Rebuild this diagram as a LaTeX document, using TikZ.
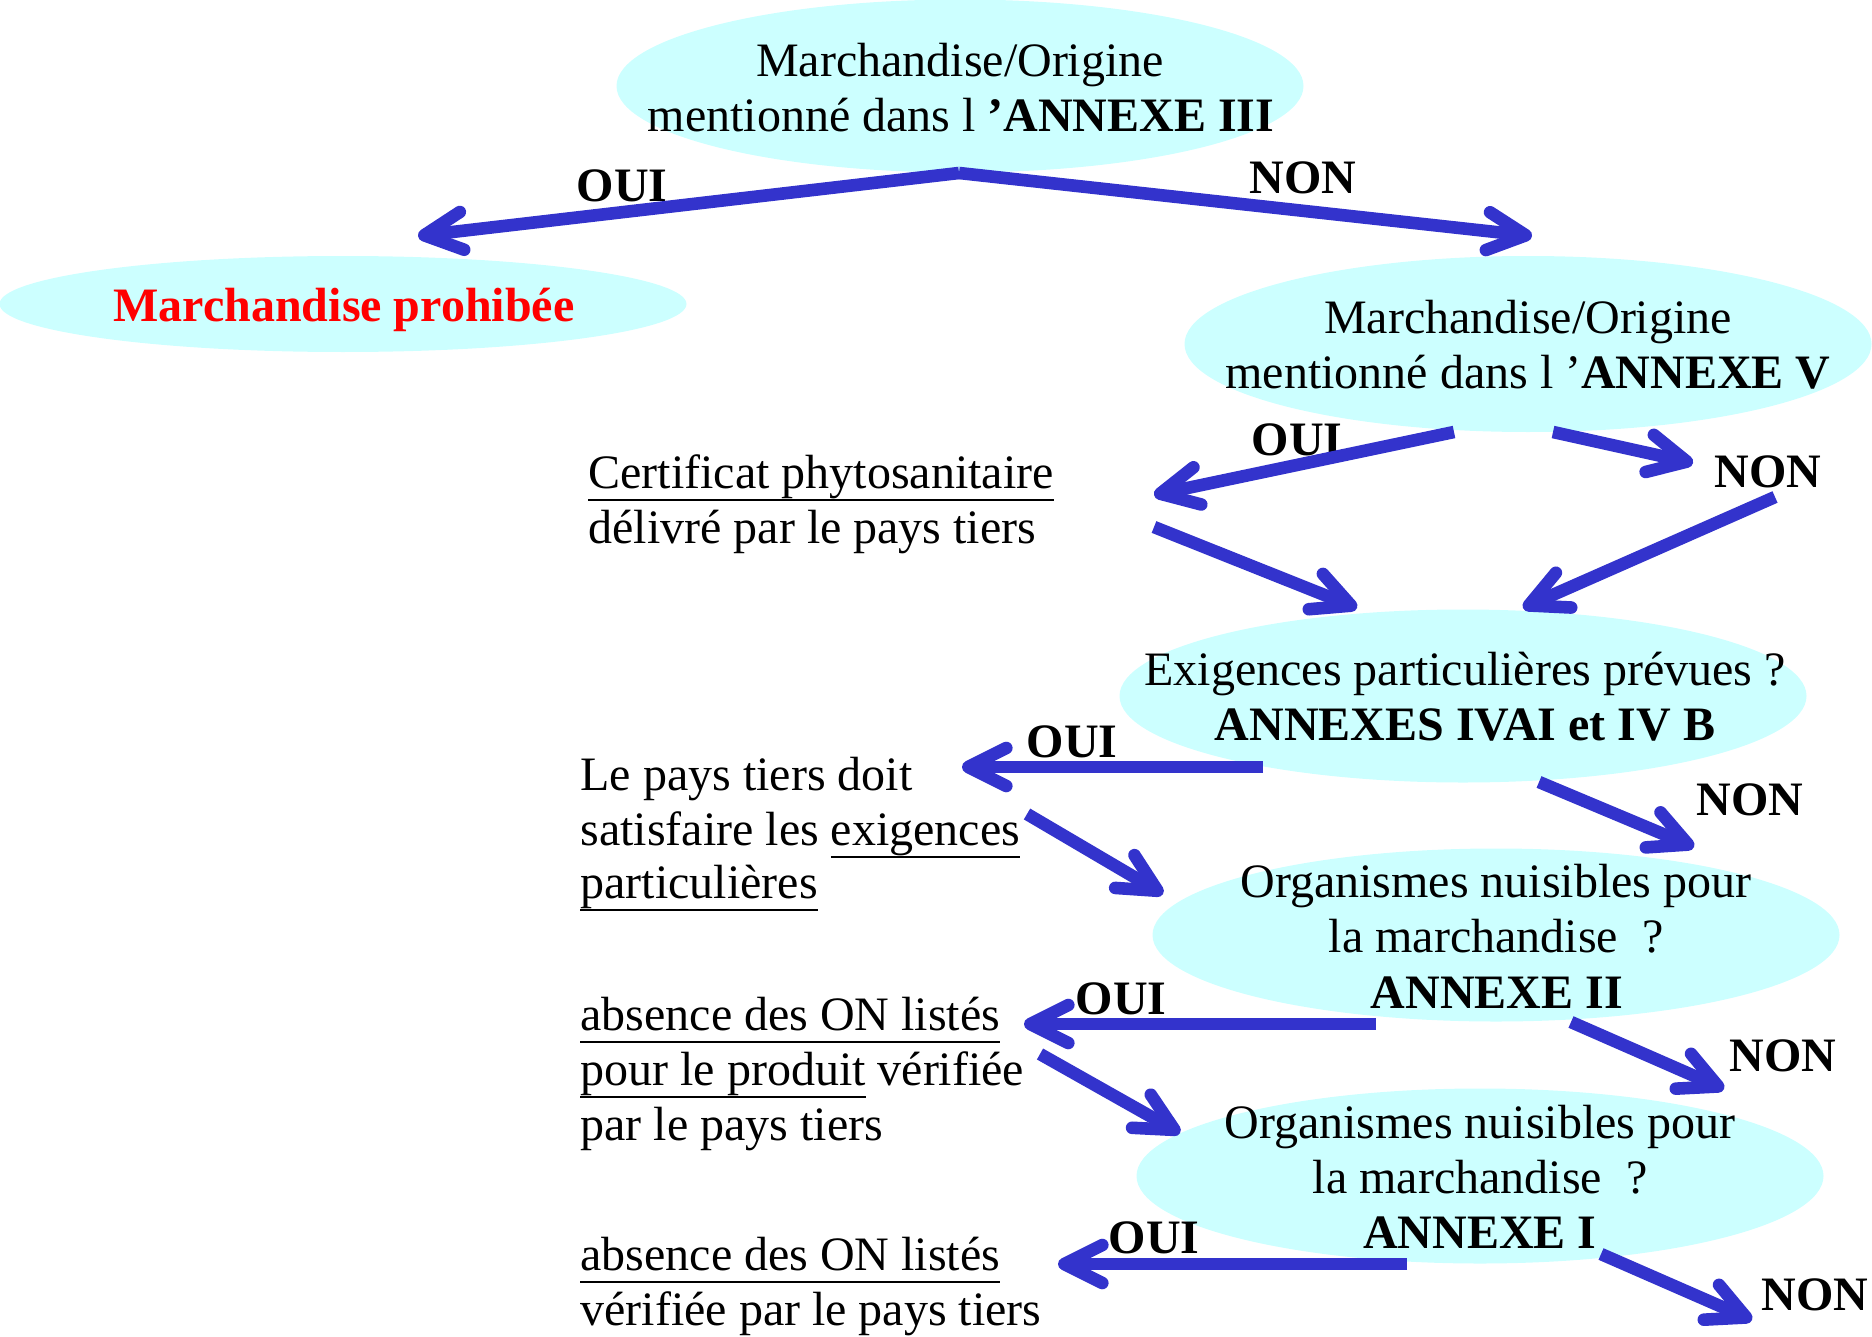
\documentclass[tikz,border=0pt]{standalone}
\usepackage{fontspec}
\setmainfont{Liberation Serif}
\usetikzlibrary{shapes.geometric,arrows.meta}
\definecolor{ellfill}{HTML}{CCFFFF}
\definecolor{arrblue}{HTML}{3333CC}
\newsavebox\ulbox
\newcommand\uln[1]{\sbox\ulbox{#1}\rlap{\rule[-6.7pt]{\wd\ulbox}{1.3pt}}\usebox\ulbox}
\tikzset{
  ell/.style={ellipse, fill=ellfill, draw=none, inner sep=0pt, minimum width=343.5pt, minimum height=86.5pt},
  txt/.style={font=\fontsize{24}{27.5}\selectfont, inner sep=0pt, anchor=base},
  ltxt/.style={txt, anchor=base west},
  lbl/.style={font=\fontsize{24}{27.5}\selectfont\bfseries, inner sep=0pt, anchor=center},
  arr/.style={draw=arrblue, line width=6.3pt, line cap=butt,
    -{Straight Barb[length=19pt, width=19pt, line cap=round, line join=round]}}
}
\begin{document}
\begin{tikzpicture}[x=0.5pt, y=-0.5pt]
\useasboundingbox (0,0) rectangle (1872,1337);
% ellipses
\node[ell] (e1) at (960,86) {};
\node[ell, minimum height=48pt] (e2) at (343,304) {};
\node[ell, minimum height=88pt] (e3) at (1528,344) {};
\node[ell] (e4) at (1463,696) {};
\node[ell] (e5) at (1496,935) {};
\node[ell, minimum height=87.5pt] (e6) at (1480,1176) {};
% ellipse texts
\node[txt] (e1a) at (960,77) {Marchandise/Origine};
\node[txt] (e1b) at (961,132) {mentionné dans l \textbf{’ANNEXE III}};
\node[txt, text=red, font=\fontsize{24}{27.5}\selectfont\bfseries] (e2a) at (344,321) {Marchandise prohibée};
\node[txt] (e3a) at (1528,333) {Marchandise/Origine};
\node[txt] (e3b) at (1528,388) {mentionné dans l ’\textbf{ANNEXE V}};
\node[txt] (e4a) at (1465,685) {Exigences particulières prévues ?};
\node[txt] (e4b) at (1465,740) {\textbf{ANNEXES IVAI et IV B}};
\node[txt] (e5a) at (1496,897) {Organismes nuisibles pour};
\node[txt] (e5b) at (1496,952) {la marchandise\ \ ?};
\node[txt] (e5c) at (1497,1008) {\textbf{ANNEXE II}};
\node[txt] (e6a) at (1480,1138) {Organismes nuisibles pour};
\node[txt] (e6b) at (1480,1193) {la marchandise\ \ ?};
\node[txt] (e6c) at (1480,1248) {\textbf{ANNEXE I}};
% left texts
\node[ltxt] (t1a) at (588,488) {\uln{Certificat phytosanitaire}};
\node[ltxt] (t1b) at (588,543) {délivré par le pays tiers};
\node[ltxt] (t2a) at (580,790) {Le pays tiers doit};
\node[ltxt] (t2b) at (580,845) {satisfaire les \uln{exigences}};
\node[ltxt] (t2c) at (580,898) {\uln{particulières}};
\node[ltxt] (t3a) at (580,1030) {\uln{absence des ON listés}};
\node[ltxt] (t3b) at (580,1085) {\uln{pour le produit} vérifiée};
\node[ltxt] (t3c) at (580,1140) {par le pays tiers};
\node[ltxt] (t4a) at (580,1270) {\uln{absence des ON listés}};
\node[ltxt] (t4b) at (580,1325) {vérifiée par le pays tiers};
% labels
\node[lbl] (l1) at (622,186) {OUI};
\node[lbl] (l2) at (1303,178) {NON};
\node[lbl] (l3) at (1297,440) {OUI};
\node[lbl] (l4) at (1768,472) {NON};
\node[lbl] (l5) at (1072,742) {OUI};
\node[lbl] (l6) at (1750,800) {NON};
\node[lbl] (l7) at (1121,999) {OUI};
\node[lbl] (l8) at (1783,1056) {NON};
\node[lbl] (l9) at (1154,1238) {OUI};
\node[lbl] (l10) at (1815,1295) {NON};
% arrow end points
\coordinate (a0) at (959,173);
\coordinate (a1) at (418,236);
\coordinate (a2) at (1532,236);
\coordinate (a3s) at (1454,432);
\coordinate (a3e) at (1154,495);
\coordinate (a4s) at (1553,432);
\coordinate (a4e) at (1693,463);
\coordinate (a5s) at (1775,497);
\coordinate (a5e) at (1523,608);
\coordinate (a6s) at (1154,527);
\coordinate (a6e) at (1357,608);
\coordinate (a7s) at (1263,767);
\coordinate (a7e) at (962,767);
\coordinate (a8s) at (1539,782);
\coordinate (a8e) at (1694,847);
\coordinate (a9s) at (1027,814);
\coordinate (a9e) at (1163,894);
\coordinate (a10s) at (1376,1024);
\coordinate (a10e) at (1024,1024);
\coordinate (a11s) at (1571,1022);
\coordinate (a11e) at (1724,1089);
\coordinate (a12s) at (1040,1054);
\coordinate (a12e) at (1180,1133);
\coordinate (a13s) at (1407,1264);
\coordinate (a13e) at (1058,1264);
\coordinate (a14s) at (1601,1254);
\coordinate (a14e) at (1752,1320);
% arrows
\draw[arr] (a0) -- (a1);
\draw[arr] (a0) -- (a2);
\draw[arr] (a3s) -- (a3e);
\draw[arr] (a4s) -- (a4e);
\draw[arr] (a5s) -- (a5e);
\draw[arr] (a6s) -- (a6e);
\draw[arr] (a7s) -- (a7e);
\draw[arr] (a8s) -- (a8e);
\draw[arr] (a9s) -- (a9e);
\draw[arr] (a10s) -- (a10e);
\draw[arr] (a11s) -- (a11e);
\draw[arr] (a12s) -- (a12e);
\draw[arr] (a13s) -- (a13e);
\draw[arr] (a14s) -- (a14e);
\end{tikzpicture}
\end{document}
